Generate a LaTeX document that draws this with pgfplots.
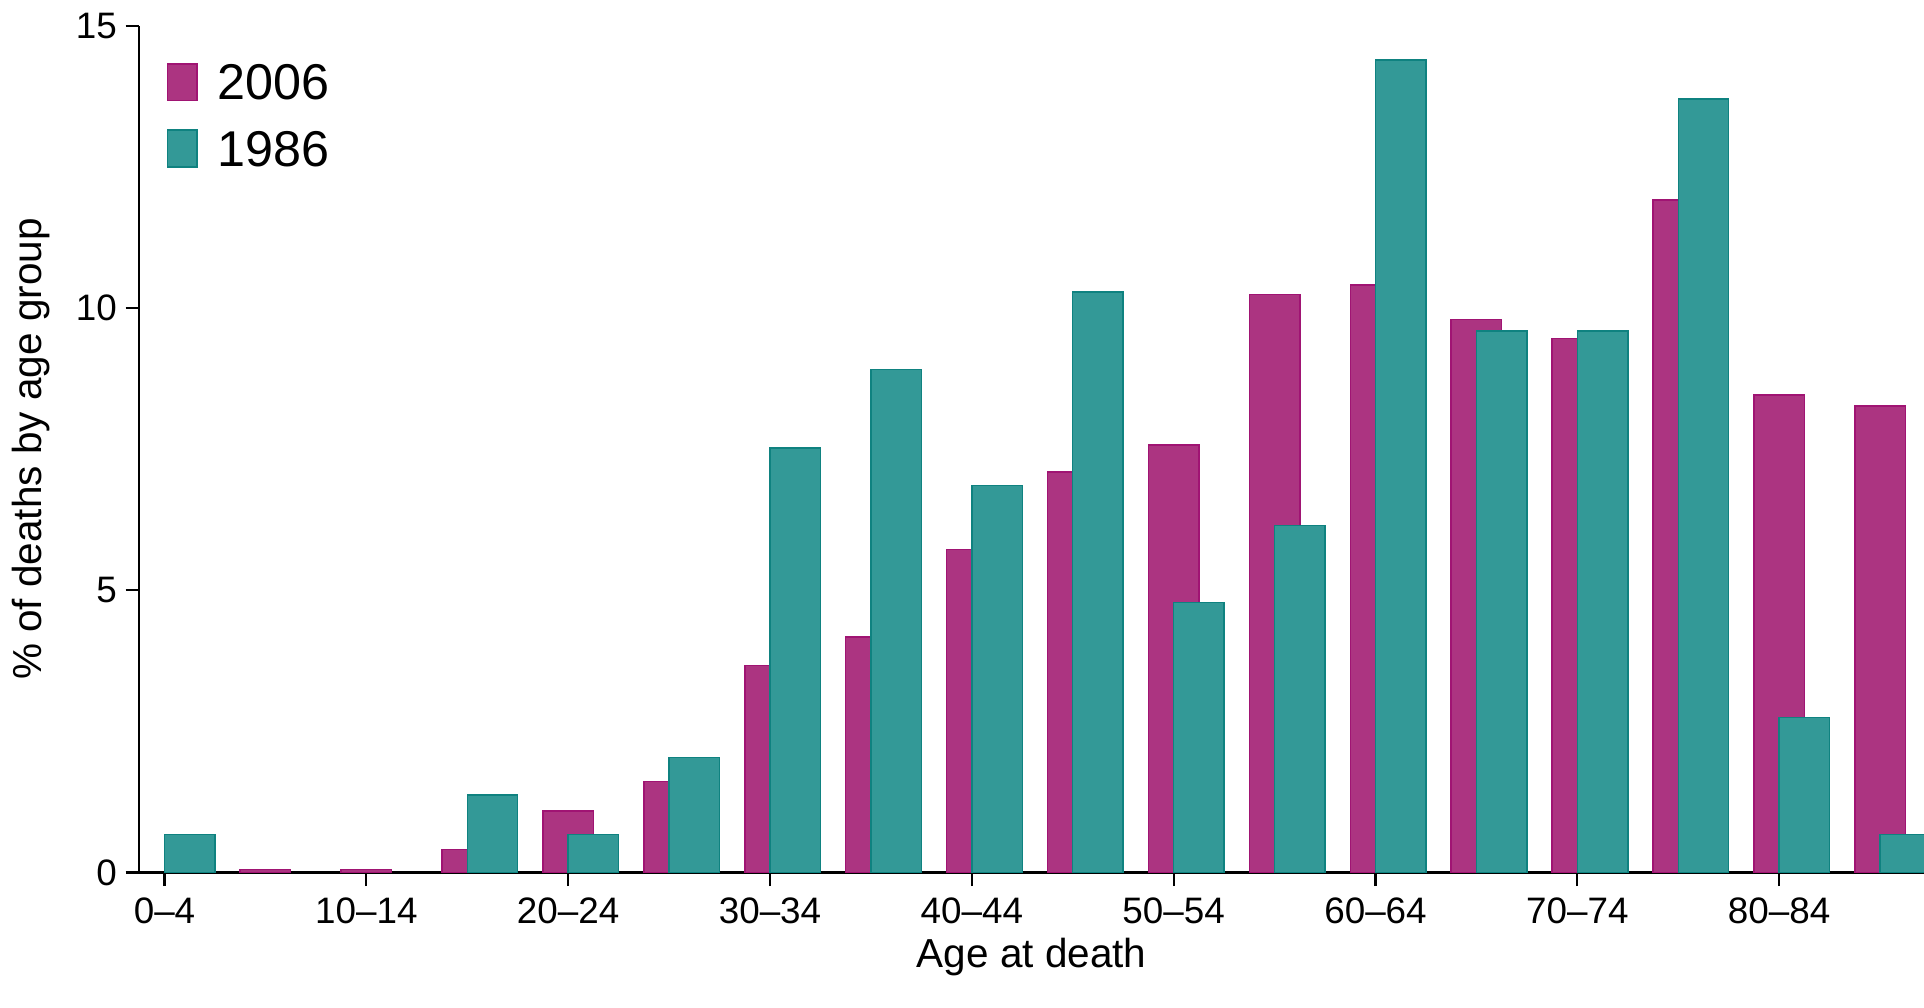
\documentclass[border=0pt]{standalone}
\usepackage{fontspec}
\setmainfont{Liberation Sans}
\usepackage{pgfplots}
\pgfplotsset{compat=1.18}
\definecolor{mag}{RGB}{172,52,129}
\definecolor{magedge}{RGB}{160,20,115}
\definecolor{tealfill}{RGB}{51,153,151}
\definecolor{tealedge}{RGB}{15,130,128}
\begin{document}
\begin{tikzpicture}
\begin{axis}[name=ax, scale only axis, width=363.625pt, height=172.5pt,
  xmin=-0.25, xmax=17.435, ymin=0, ymax=15,
  axis lines=left, axis line style={-, line width=0.45pt},
  tick align=outside, major tick length=2.8pt,
  tick style={black, line width=0.45pt},
  xtick={0,2,...,16},
  xticklabels={0–4,10–14,20–24,30–34,40–44,50–54,60–64,70–74,80–84},
  ytick={0,5,10,15},
  /pgf/number format/assume math mode=true,
  tick label style={font=\fontsize{7.5}{9}\selectfont},
  xticklabel style={yshift=1.25pt},
  yticklabel style={xshift=1.75pt},
  xlabel={Age at death}, ylabel={\% of deaths by age group},
  label style={font=\fontsize{8.25}{10}\selectfont},
  xlabel style={at={(axis description cs:0.5,-0.1005)}, anchor=center},
  ylabel style={at={(axis description cs:-0.0608,0.5)}, anchor=center},
  legend style={draw=none, fill=none, at={(axis description cs:0,1)}, anchor=north west,
    xshift=5.4pt, yshift=-7.4pt, inner sep=0pt, row sep=4.56pt, column sep=4.1pt,
    nodes={inner sep=0pt, text depth=0.15em},
    font=\fontsize{10.25}{12}\selectfont},
  legend cell align=left,
  legend image code/.code={\draw[#1, line width=0.3pt] (0pt,-3pt) rectangle (6pt,4.5pt);},
]
\addplot[ybar, bar width=0.5, bar shift=0, fill=mag, draw=magedge, line width=0.3pt] coordinates {
(1,0.05) (2,0.05) (3,0.41) (4,1.09) (5,1.61) (6,3.67) (7,4.17) (8,5.72)
(9,7.09) (10,7.57) (11,10.24) (12,10.41) (13,9.80) (14,9.46) (15,11.91) (16,8.46) (17,8.26)};
\addlegendentry{2006}
\addplot[ybar, bar width=0.5, bar shift=0.25, fill=tealfill, draw=tealedge, line width=0.3pt] coordinates {
(0,0.67) (3,1.37) (4,0.67) (5,2.04) (6,7.52) (7,8.91) (8,6.85)
(9,10.28) (10,4.78) (11,6.15) (12,14.39) (13,9.59) (14,9.59) (15,13.70) (16,2.74) (17,0.67)};
\addlegendentry{1986}
\end{axis}
\pgfresetboundingbox
\path[use as bounding box] ([xshift=-28.375pt,yshift=-27.5pt]ax.south west) rectangle ([yshift=5.25pt]ax.north east);
\end{tikzpicture}
\end{document}
